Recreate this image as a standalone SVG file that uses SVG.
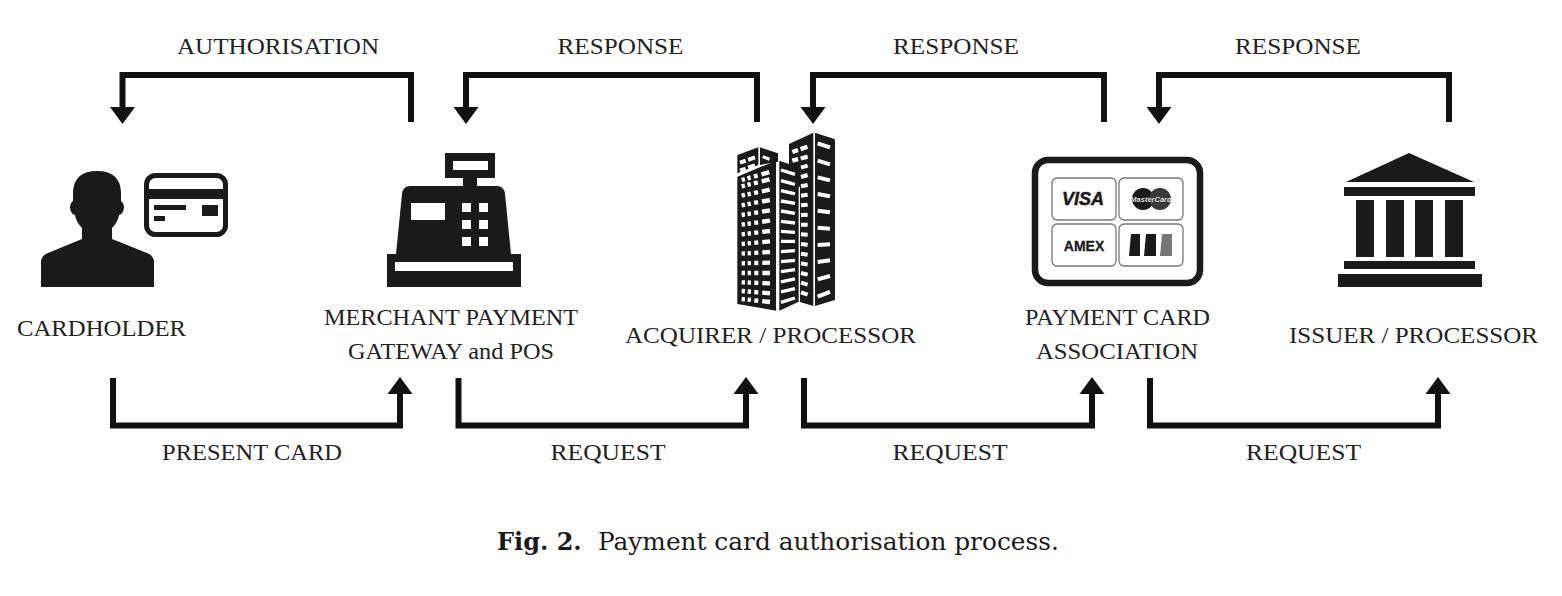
<svg xmlns="http://www.w3.org/2000/svg" width="1562" height="596" viewBox="0 0 1562 596">
<style>
.k{fill:#1a1a1a}
.w{fill:#fff}
.t{font-family:"Liberation Serif","DejaVu Serif",serif;font-size:23.500px;fill:#222;text-anchor:middle}
.c{fill:none;stroke:#111;stroke-width:6;stroke-linejoin:miter}
.g{fill:#fff;stroke:#777;stroke-width:1.3}
.cap{font-family:"DejaVu Serif",serif;font-size:24.800px;fill:#1a1a1a}
.s{stroke:#fff;fill:none}
.b{font-family:"Liberation Sans",Arial,sans-serif;font-weight:700;text-anchor:middle;fill:#1a1a1a}
</style>
<defs>
<marker id="a" markerUnits="userSpaceOnUse" markerWidth="20" markerHeight="28" refX="2" refY="13" orient="auto"><path d="M0 0.500L17 13L0 25.500Z" fill="#111"/></marker>
</defs>

<g id="connectors">
<path class="c" marker-end="url(#a)" d="M411 122V75H122.500V109"/>
<path class="c" marker-end="url(#a)" d="M757 122V75H466V109"/>
<path class="c" marker-end="url(#a)" d="M1104 122V75H813V109"/>
<path class="c" marker-end="url(#a)" d="M1449 122V75H1159V109"/>
<path class="c" marker-end="url(#a)" d="M113 378V425.500H400V392"/>
<path class="c" marker-end="url(#a)" d="M458.500 378V425.500H746V392"/>
<path class="c" marker-end="url(#a)" d="M804 378V425.500H1092V392"/>
<path class="c" marker-end="url(#a)" d="M1150 378V425.500H1438V392"/>
</g>

<g id="connector-labels">
<text class="t" x="278" y="54" textLength="202" lengthAdjust="spacingAndGlyphs">AUTHORISATION</text>
<text class="t" x="620.500" y="54" textLength="126" lengthAdjust="spacingAndGlyphs">RESPONSE</text>
<text class="t" x="956" y="54" textLength="126" lengthAdjust="spacingAndGlyphs">RESPONSE</text>
<text class="t" x="1298" y="54" textLength="126" lengthAdjust="spacingAndGlyphs">RESPONSE</text>
<text class="t" x="252" y="460" textLength="180" lengthAdjust="spacingAndGlyphs">PRESENT CARD</text>
<text class="t" x="608" y="460" textLength="115" lengthAdjust="spacingAndGlyphs">REQUEST</text>
<text class="t" x="950" y="460" textLength="115" lengthAdjust="spacingAndGlyphs">REQUEST</text>
<text class="t" x="1303.500" y="460" textLength="115" lengthAdjust="spacingAndGlyphs">REQUEST</text>
</g>

<g id="cardholder">
<path class="k" d="M41 287V262Q41 256 48 253L82 239V228Q76 222 75 215Q71 214 70 208Q70 203 73 201V192Q74 171 97 171Q120 171 121 192V201Q124 203 124 208Q123 214 119 215Q118 222 112 228V239L147 253Q154 256 154 262V287Z"/>
<rect x="146.500" y="175.500" width="79" height="59" rx="9" fill="#fff" stroke="#1a1a1a" stroke-width="5"/>
<rect class="k" x="146" y="189" width="80" height="10"/>
<rect class="k" x="154" y="205" width="32" height="5"/>
<rect class="k" x="154" y="216" width="11" height="5"/>
<rect class="k" x="202" y="205" width="16" height="11"/>
<text class="t" x="101.500" y="336" textLength="169" lengthAdjust="spacingAndGlyphs">CARDHOLDER</text>
</g>

<g id="merchant">
<path class="k" d="M445 153H495V178H477V186H497Q504 186 505 194L511 254H521V287H387V254H396L402 194Q403 186 410 186H463V178H445Z"/>
<rect class="w" x="453" y="161" width="35" height="9"/>
<rect class="w" x="411" y="203" width="34" height="17"/>
<rect class="w" x="462" y="203" width="9" height="9"/><rect class="w" x="479" y="203" width="9" height="9"/>
<rect class="w" x="462" y="220" width="9" height="9"/><rect class="w" x="479" y="220" width="9" height="9"/>
<rect class="w" x="462" y="237" width="9" height="9"/><rect class="w" x="479" y="237" width="9" height="9"/>
<rect class="w" x="395" y="262" width="118" height="9"/>
<text class="t" x="451" y="325" textLength="254" lengthAdjust="spacingAndGlyphs">MERCHANT PAYMENT</text>
<text class="t" x="451" y="359" textLength="206" lengthAdjust="spacingAndGlyphs">GATEWAY and POS</text>
</g>

<g id="acquirer">
<g transform="translate(700 120) scale(.3333)">
<path class="k" d="M267 72L340 38V558L300 546V200H267Z"/>
<path class="k" d="M345 38L405 58V540L345 558Z"/>
<path class="k" d="M112 105L175 82V135L112 160Z"/>
<path class="k" d="M180 82L234 100V125L180 135Z"/>
<path class="k" d="M112 170L228 122V572L112 552Z"/>
<path class="k" d="M238 122L296 142V545L238 572Z"/>
<path class="s" style="stroke-width:12" d="M353 70L390 82M353 122L390 133M353 172L390 181M353 222L390 229M353 272L390 277M353 323L390 326M353 375L390 373M353 426L390 421M353 478L390 468M353 530L390 516"/>
<path class="s" style="stroke-width:10" d="M243 150L285 163M243 182L285 193M243 212L285 222M243 243L285 250M243 273L285 280M243 304L285 309M243 334L285 337M243 364L285 364M243 395L285 392M243 425L285 421M243 455L285 449M243 486L285 477M243 516L285 506M243 547L285 534"/>
<path class="s" style="stroke-width:13;stroke-dasharray:18 8 22 40" d="M277 96L323 80M277 122L323 110"/>
<path class="s" style="stroke-width:12" d="M303 143L323 137M303 171L323 165M303 199L323 195M303 227L323 224M303 256L323 254M303 285L323 284M303 314L323 314M303 343L323 344M303 372L323 374M303 401L323 404M303 430L323 434M303 459L323 464M303 488L323 494M303 517L323 524"/>
<path class="s" style="stroke-width:12;stroke-dasharray:18 8 22 40" d="M120 128L165 112M120 152L165 136"/>
<path class="s" style="stroke-width:9;stroke-dasharray:22 40" d="M188 110L220 122"/>
<path class="s" style="stroke-width:13;stroke-dasharray:10 8 10 10 12 12 24 40" d="M125 180L210 156M125 199L210 178M125 227L210 209M125 256L210 240M125 285L210 271M125 314L210 302M125 343L210 333M125 372L210 364M125 401L210 396M125 430L210 428M125 459L210 459M125 487L210 490M125 513L210 520M125 537L210 546"/>
</g>
<text class="t" x="770.500" y="343" textLength="291" lengthAdjust="spacingAndGlyphs">ACQUIRER / PROCESSOR</text>
</g>

<g id="association">
<rect x="1035" y="160" width="165" height="123" rx="13" fill="#fff" stroke="#1a1a1a" stroke-width="6.500"/>
<rect class="g" x="1052" y="178" width="64" height="42" rx="5"/>
<rect class="g" x="1119" y="178" width="64" height="42" rx="5"/>
<rect class="g" x="1052" y="224" width="64" height="42" rx="5"/>
<rect class="g" x="1119" y="224" width="64" height="42" rx="5"/>
<text class="b" x="1083" y="205" font-size="18" font-style="italic" stroke="#1a1a1a" stroke-width=".5">VISA</text>
<text class="b" x="1084" y="251" font-size="14" stroke="#1a1a1a" stroke-width=".3">AMEX</text>
<circle class="k" cx="1143" cy="199" r="11"/>
<circle cx="1160" cy="199" r="11" fill="#3a3a3a"/>
<text x="1151" y="201.500" font-family="Liberation Sans,sans-serif" font-size="7.500" font-style="italic" font-weight="700" fill="#ddd" text-anchor="middle">MasterCard</text>
<path class="k" d="M1131 234H1140V256H1129Z"/>
<path class="k" d="M1146 234H1156V256H1144Z"/>
<path d="M1162 234H1172V256H1160Z" fill="#777"/>
<text class="t" x="1117.500" y="325" textLength="185" lengthAdjust="spacingAndGlyphs">PAYMENT CARD</text>
<text class="t" x="1117" y="359" textLength="162" lengthAdjust="spacingAndGlyphs">ASSOCIATION</text>
</g>

<g id="issuer">
<path class="k" d="M1346 182L1409 153L1474 182Z"/>
<rect class="k" x="1344" y="187" width="131" height="9"/>
<rect class="k" x="1356" y="200" width="18" height="57"/>
<rect class="k" x="1386" y="200" width="18" height="57"/>
<rect class="k" x="1415" y="200" width="18" height="57"/>
<rect class="k" x="1445" y="200" width="18" height="57"/>
<rect class="k" x="1344" y="261" width="131" height="8"/>
<rect class="k" x="1338" y="274" width="144" height="13"/>
<text class="t" x="1413.500" y="343" textLength="249" lengthAdjust="spacingAndGlyphs">ISSUER / PROCESSOR</text>
</g>

<text class="cap" x="497" y="550"><tspan font-weight="700" style="font-size:24px">Fig. 2.</tspan><tspan x="598">Payment card authorisation process.</tspan></text>
</svg>
